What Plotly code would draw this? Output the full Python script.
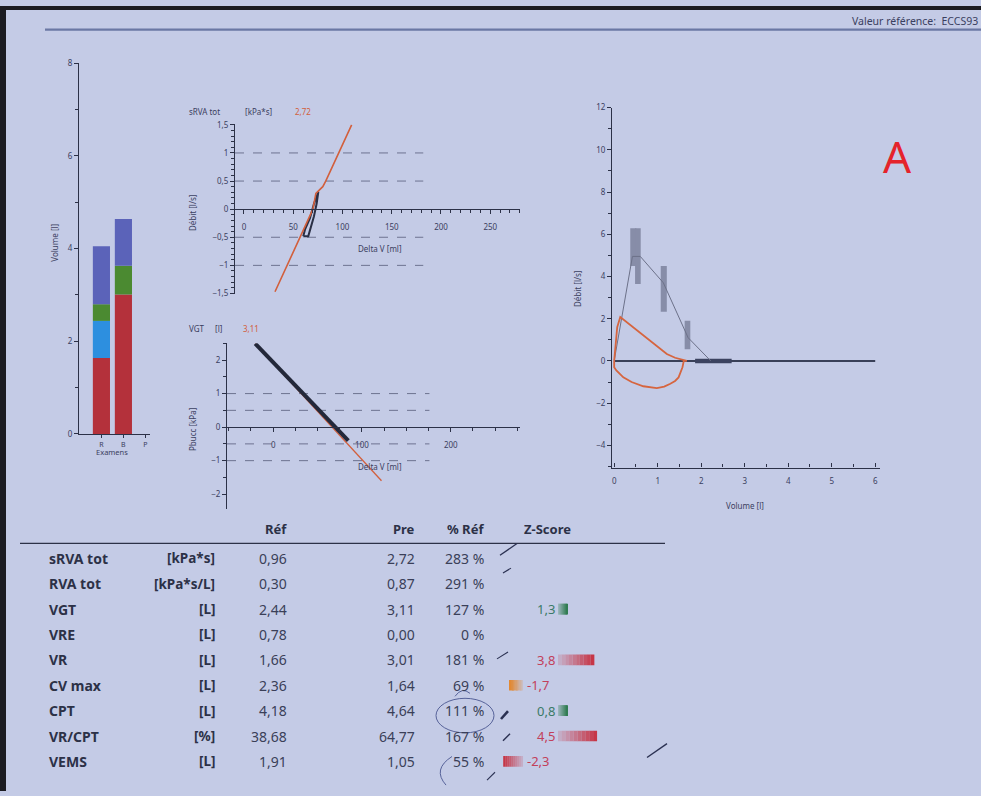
import numpy as np
import plotly.graph_objects as go

W, H = 981, 796
BG = "#c4cbe6"
INK = "#2c3147"
TICK = "#3b4060"
ORANGE = "#d25f3c"
FONT = "Noto Sans"

# ---------------- data ----------------
exam_labels = ["R", "B", "P"]
exam_bars = ["R", "B"]
segment_colors = ["#b4313b", "#2d8fdf", "#4b8a31", "#5b63b9"]
vol_ref = [1.64, 0.80, 0.36, 1.25]
vol_pre = [3.01, 0.00, 0.62, 1.01]

srva_value = "2,72"
srva_dv = [31.5, 70, 73, 76, 80, 83, 109.3]
srva_flow = [-1.47, 0.0, 0.28, 0.33, 0.40, 0.50, 1.50]
srva_loop_dv = [60.2, 65.3, 71.0, 73.8, 75.5, 71.1, 67.0, 62.0, 60.2]
srva_loop_flow = [-0.48, -0.48, -0.13, 0.10, 0.31, 0.10, -0.16, -0.36, -0.48]
guide_levels = [1, 0.5, -0.5, -1]
srva_guide_end = 182

vgt_value = "3,11"
vgt_fit_dv = [-20.2, 122]
vgt_fit_p = [2.49, -1.6]
vgt_meas_dv = [-20.2, 10, 40, 60, 75, 84.6]
vgt_meas_p = [2.49, 1.66, 0.83, 0.27, -0.13, -0.40]
vgt_guide_end = 176

fv_exp_vol = [0, 0.03, 0.07, 0.14, 0.30, 0.50, 0.75, 1.00, 1.21, 1.40, 1.52, 1.67]
fv_exp_flow = [0, 0.8, 1.6, 2.08, 1.82, 1.50, 1.08, 0.68, 0.33, 0.15, 0.08, 0]
fv_ins_vol = [1.67, 1.60, 1.57, 1.48, 1.40, 1.29, 1.15, 0.98, 0.80, 0.67, 0.40, 0.21, 0.05, 0, 0]
fv_ins_flow = [0, 0, -0.30, -0.78, -0.95, -1.08, -1.22, -1.29, -1.25, -1.20, -1.00, -0.78, -0.45, -0.30, 0]
pred_vol = [0, 0.42, 0.60, 1.13, 1.70, 2.22]
pred_flow = [0, 4.95, 4.95, 3.70, 1.10, 0.0]
box_vol_lo = [0.37, 0.48, 1.07, 1.62]
box_vol_hi = [0.51, 0.61, 1.21, 1.75]
box_flow_lo = [4.50, 3.64, 2.33, 0.55]
box_flow_hi = [6.28, 6.28, 4.50, 1.90]
baseline_vol = [0, 6.0]
plateau_vol = [1.86, 2.70]

row_names = ["sRVA tot", "RVA tot", "VGT", "VRE", "VR", "CV max", "CPT", "VR/CPT", "VEMS"]
row_units = ["[kPa*s]", "[kPa*s/L]", "[L]", "[L]", "[L]", "[L]", "[L]", "[%]", "[L]"]
ref_vals = [0.96, 0.30, 2.44, 0.78, 1.66, 2.36, 4.18, 38.68, 1.91]
pre_vals = [2.72, 0.87, 3.11, 0.00, 3.01, 1.64, 4.64, 64.77, 1.05]
pct_vals = [283, 291, 127, 0, 181, 69, 111, 167, 55]
z_vals = [None, None, 1.3, None, 3.8, -1.7, 0.8, 4.5, -2.3]
col_headers = ["Réf", "Pre", "% Réf", "Z-Score"]


def fx(x):
    return x / W


def fy(y):
    return 1 - y / H


def fmt(v):
    return f"{v:.2f}".replace(".", ",")


def mix(c1, c2, t):
    a = [int(c1[i:i + 2], 16) for i in (1, 3, 5)]
    b = [int(c2[i:i + 2], 16) for i in (1, 3, 5)]
    return "rgb(%d,%d,%d)" % tuple(round(a[k] + (b[k] - a[k]) * t) for k in range(3))


fig = go.Figure()

# ---------------- stacked volume bars ----------------
for label, vals in zip(exam_bars, [vol_ref, vol_pre]):
    pos = exam_labels.index(label)
    bases = np.concatenate([[0], np.cumsum(vals)[:-1]])
    fig.add_trace(go.Bar(x=[pos] * len(vals), y=vals, base=bases, width=0.78,
                         marker=dict(color=segment_colors, line=dict(width=0)),
                         xaxis="x", yaxis="y", hoverinfo="skip"))

# ---------------- sRVA ----------------
for lv in guide_levels:
    fig.add_trace(go.Scatter(x=[-9.1, srva_guide_end], y=[lv, lv], mode="lines",
                             line=dict(color="#6d7390", width=1, dash="dash"),
                             xaxis="x2", yaxis="y2", hoverinfo="skip"))
fig.add_trace(go.Scatter(x=srva_loop_dv, y=srva_loop_flow, mode="lines",
                         line=dict(color="#2a2f45", width=2), xaxis="x2", yaxis="y2"))
fig.add_trace(go.Scatter(x=srva_dv, y=srva_flow, mode="lines",
                         line=dict(color=ORANGE, width=1.6), xaxis="x2", yaxis="y2"))

# ---------------- VGT ----------------
for lv in guide_levels:
    fig.add_trace(go.Scatter(x=[-52, vgt_guide_end], y=[lv, lv], mode="lines",
                             line=dict(color="#6d7390", width=1, dash="dash"),
                             xaxis="x3", yaxis="y3", hoverinfo="skip"))
fig.add_trace(go.Scatter(x=vgt_fit_dv, y=vgt_fit_p, mode="lines",
                         line=dict(color=ORANGE, width=1.3), xaxis="x3", yaxis="y3"))
fig.add_trace(go.Scatter(x=vgt_meas_dv, y=vgt_meas_p, mode="lines",
                         line=dict(color="#23283a", width=4), xaxis="x3", yaxis="y3"))

# ---------------- flow-volume ----------------
fig.add_trace(go.Scatter(x=baseline_vol, y=[0, 0], mode="lines",
                         line=dict(color="#394058", width=2), xaxis="x4", yaxis="y4"))
fig.add_trace(go.Scatter(x=plateau_vol, y=[0, 0], mode="lines",
                         line=dict(color="#3c4360", width=4.5), xaxis="x4", yaxis="y4"))
fig.add_trace(go.Scatter(x=pred_vol, y=pred_flow, mode="lines",
                         line=dict(color="#6c7189", width=1), xaxis="x4", yaxis="y4"))
box_c = [(lo + hi) / 2 for lo, hi in zip(box_vol_lo, box_vol_hi)]
box_w = [hi - lo for lo, hi in zip(box_vol_lo, box_vol_hi)]
box_h = [hi - lo for lo, hi in zip(box_flow_lo, box_flow_hi)]
fig.add_trace(go.Bar(x=box_c, y=box_h, base=box_flow_lo, width=box_w,
                     marker=dict(color="#878da8", line=dict(width=0)),
                     xaxis="x4", yaxis="y4", hoverinfo="skip"))
fig.add_trace(go.Scatter(x=fv_exp_vol + fv_ins_vol, y=fv_exp_flow + fv_ins_flow, mode="lines",
                         line=dict(color="#d6653f", width=1.8), xaxis="x4", yaxis="y4"))

# ---------------- z-score bars ----------------
n_seg = 10
for i, z in enumerate(z_vals):
    if z is None:
        continue
    a = abs(z)
    L = min(39, max(9, (a - 0.5) * 11))
    if a < 1.645:
        full = "#2c7a4c"
    elif z < 0 and a < 2:
        full = "#e3862c"
    else:
        full = "#c62f40"
    sgn = 1 if z > 0 else -1
    start = 17 if z > 0 else -18
    seg = L / n_seg
    bases, cols = [], []
    for k in range(n_seg):
        t = 0.15 + 0.85 * (k + 0.5) / n_seg
        b0 = start + sgn * k * seg
        bases.append(b0 if sgn > 0 else b0 - seg)
        cols.append(mix(BG, full, t))
    fig.add_trace(go.Bar(y=[i] * n_seg, x=[seg * 1.02] * n_seg, base=bases, orientation="h",
                         width=0.42, marker=dict(color=cols, line=dict(width=0)),
                         xaxis="x5", yaxis="y5", hoverinfo="skip"))

# ---------------- axes ----------------
base_ax = dict(showline=True, linecolor=INK, linewidth=1.2, showgrid=False, zeroline=False,
               ticks="outside", tickcolor=INK, ticklen=4, tickwidth=1,
               tickfont=dict(size=8, color=TICK, family=FONT))

fig.update_layout(
    width=W, height=H, margin=dict(l=0, r=0, t=0, b=0),
    paper_bgcolor=BG, plot_bgcolor="rgba(0,0,0,0)",
    showlegend=False, barmode="overlay", separators=", ",
    font=dict(family=FONT, color=INK),
    xaxis=dict(base_ax, domain=[fx(79), fx(150)], anchor="y", range=[-1.02, 2.21],
               tickvals=list(range(len(exam_labels))), ticktext=exam_labels, ticklen=3,
               tickfont=dict(size=7, color=TICK, family=FONT)),
    yaxis=dict(base_ax, domain=[fy(434), fy(58)], anchor="x", range=[0, 8], dtick=2,
               minor=dict(ticks="outside", dtick=1, ticklen=3, tickcolor=INK)),
    xaxis2=dict(base_ax, domain=[fx(235), fx(520)], anchor="free", position=fy(206),
                range=[-9.1, 280.2], tick0=0, dtick=50, ticklabelstandoff=6,
                minor=dict(ticks="outside", dtick=10, ticklen=3, tickcolor=INK)),
    yaxis2=dict(base_ax, domain=[fy(292), fy(120)], anchor="x2", range=[-1.509, 1.509],
                tick0=0, dtick=0.5,
                minor=dict(ticks="outside", dtick=0.1, ticklen=3, tickcolor=INK)),
    xaxis3=dict(base_ax, domain=[fx(227), fx(520)], anchor="free", position=fy(427),
                range=[-52, 278], tick0=0, dtick=100, ticklabelstandoff=6,
                minor=dict(ticks="outside", dtick=25, ticklen=3, tickcolor=INK)),
    yaxis3=dict(base_ax, domain=[fy(510), fy(342)], anchor="x3", range=[-2.44, 2.5],
                dtick=1, minor=dict(ticks="outside", dtick=0.5, ticklen=3, tickcolor=INK)),
    xaxis4=dict(base_ax, domain=[fx(612), fx(880)], anchor="y4", range=[-0.05, 6.11],
                dtick=1, ticks="inside", ticklabelstandoff=6,
                minor=dict(ticks="inside", dtick=0.5, ticklen=3, tickcolor=INK)),
    yaxis4=dict(base_ax, domain=[fy(468), fy(103)], anchor="x4", range=[-5.05, 12],
                dtick=2, minor=dict(ticks="outside", dtick=1, ticklen=3, tickcolor=INK)),
    xaxis5=dict(domain=[fx(480), fx(640)], anchor="y5", range=[-61, 99], visible=False),
    yaxis5=dict(domain=[fy(560 + 25.75 * 8.5), fy(560 - 25.75 * 0.5)], anchor="x5",
                range=[8.5, -0.5], visible=False),
)

# ---------------- shapes (frame, rules, pen marks) ----------------
PEN = "#2b3152"


def pen(x0, y0, x1, y1, w=1.2):
    return dict(type="line", xref="paper", yref="paper", x0=fx(x0), y0=fy(y0), x1=fx(x1), y1=fy(y1),
                line=dict(color=PEN, width=w))


shapes = [
    dict(type="rect", xref="paper", yref="paper", x0=0, x1=fx(6), y0=0, y1=1,
         fillcolor="#1c1c22", line=dict(width=0)),
    dict(type="rect", xref="paper", yref="paper", x0=0, x1=1, y0=fy(4), y1=1,
         fillcolor="#1c1c22", line=dict(width=0)),
    dict(type="line", xref="paper", yref="paper", x0=fx(45), x1=1, y0=fy(24), y1=fy(24),
         line=dict(color="#6b78a4", width=2.2)),
    dict(type="line", xref="paper", yref="paper", x0=fx(20), x1=fx(665), y0=fy(545), y1=fy(545),
         line=dict(color="#2c3147", width=1.3)),
    pen(500, 557, 517, 545, 1.3),
    pen(503, 575, 511, 570, 1.1),
    pen(497, 662, 508, 655, 1.1),
    pen(501, 723, 508, 715, 2.6),
    pen(503, 745, 510, 738, 1.4),
    pen(487, 785, 495, 777, 1.1),
    pen(647, 762, 667, 748, 1.4),
    dict(type="circle", xref="paper", yref="paper", x0=fx(436), x1=fx(494), y0=fy(737), y1=fy(702),
         line=dict(color="#4a5690", width=0.9)),
    dict(type="path", xref="paper", yref="paper",
         path=f"M {fx(452)} {fy(761)} Q {fx(432)} {fy(774)} {fx(446)} {fy(790)}",
         line=dict(color="#4a5690", width=0.9)),
    dict(type="path", xref="paper", yref="paper",
         path=f"M {fx(455)} {fy(700)} Q {fx(462)} {fy(690)} {fx(470)} {fy(697)}",
         line=dict(color="#4a5690", width=0.9)),
]
fig.update_layout(shapes=shapes)


def note(x, y, text, size=8, color=TICK, xanchor="center", angle=0, bold=False):
    fig.add_annotation(xref="paper", yref="paper", x=fx(x), y=fy(y), text=f"<b>{text}</b>" if bold else text,
                       showarrow=False, xanchor=xanchor, yanchor="middle", textangle=angle,
                       font=dict(size=size, color=color, family=FONT))


note(980, 15, "Valeur référence:  ECCS93", size=10.5, color="#3a4060", xanchor="right")
note(897, 152, "A", size=44, color="#e5232b")

note(55, 240, "Volume [l]", angle=-90)
note(112, 452, "Examens", size=7.5)

note(187, 107, "sRVA tot", xanchor="left")
note(243, 107, "[kPa*s]", xanchor="left")
note(293, 107, srva_value, xanchor="left", color=ORANGE)
note(192, 210, "Débit [l/s]", angle=-90)
note(380, 246, "Delta V [ml]")

note(187, 327, "VGT", xanchor="left")
note(213, 327, "[l]", xanchor="left")
note(241, 327, vgt_value, xanchor="left", color=ORANGE)
note(192, 430, "Pbucc [kPa]", angle=-90)
note(380, 467, "Delta V [ml]")

note(577, 287, "Débit [l/s]", angle=-90)
note(745, 507, "Volume [l]")

# ---------------- table ----------------
HDR_Y = 530
note(289, HDR_Y, col_headers[0], size=13, color=INK, xanchor="right", bold=True)
note(417, HDR_Y, col_headers[1], size=13, color=INK, xanchor="right", bold=True)
note(486, HDR_Y, col_headers[2], size=13, color=INK, xanchor="right", bold=True)
note(547, HDR_Y, col_headers[3], size=13, color=INK, xanchor="center", bold=True)

VAL = "#3a3f58"
for i in range(len(row_names)):
    y = 560 + 25.75 * i
    note(47, y, row_names[i], size=14, color=INK, xanchor="left", bold=True)
    note(217, y, row_units[i], size=13.5, color=INK, xanchor="right", bold=True)
    note(289, y, fmt(ref_vals[i]), size=14, color=VAL, xanchor="right")
    note(417, y, fmt(pre_vals[i]), size=14, color=VAL, xanchor="right")
    note(486, y, f"{pct_vals[i]} %", size=14, color=VAL, xanchor="right")
    z = z_vals[i]
    if z is not None:
        zc = "#3a7a66" if abs(z) < 1.645 else "#c2405a"
        zt = f"{z:.1f}".replace(".", ",")
        if z > 0:
            note(557, y, zt, size=13, color=zc, xanchor="right")
        else:
            note(525, y, zt, size=13, color=zc, xanchor="left")

fig.write_html("out.html", config={"displayModeBar": False},
               post_script="document.body.style.margin='0';document.body.style.overflow='hidden';")
